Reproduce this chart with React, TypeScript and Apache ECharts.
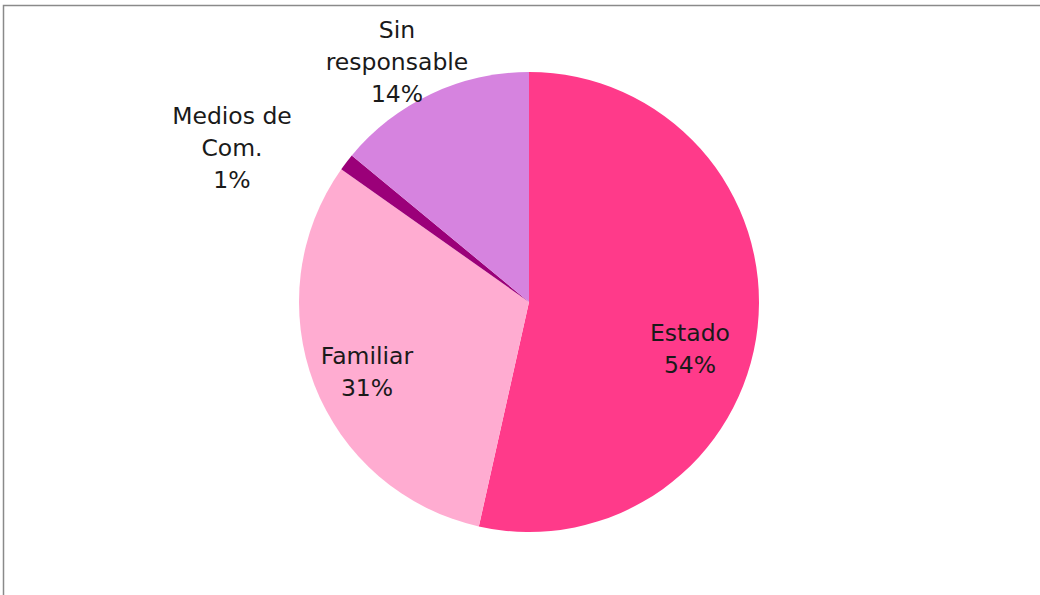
import React, { useEffect, useRef } from "react";
import * as echarts from "echarts";

const categories = ["Estado", "Familiar", "Medios de\nCom.", "Sin\nresponsable"];
const values = [53.5, 31.3, 1.2, 14.0];
const colors = ["#FF3A8A", "#FFACD1", "#9B0079", "#D683DF"];
const labelCenters: [number, number][] = [
  [690, 349],
  [367, 372],
  [232, 148],
  [397, 62],
];

export default function App() {
  const ref = useRef<HTMLDivElement>(null);
  useEffect(() => {
    if (!ref.current) return;
    const chart = echarts.init(ref.current, undefined, { renderer: "svg" });
    chart.setOption({
      animation: false,
      backgroundColor: "#ffffff",
      graphic: [
        {
          type: "rect",
          shape: { x: 3.5, y: 5.5, width: 1060, height: 620 },
          style: { fill: "none", stroke: "#8a8a8a", lineWidth: 1.5 },
          silent: true,
        },
      ],
      series: [
        {
          type: "pie",
          center: [529, 302],
          radius: 230,
          startAngle: 90,
          clockwise: true,
          avoidLabelOverlap: false,
          data: categories.map((name, i) => ({
            name,
            value: values[i],
            itemStyle: { color: colors[i] },
          })),
          itemStyle: { borderWidth: 0 },
          label: {
            show: true,
            position: "inside",
            formatter: (p: any) => `${p.name}\n${Math.round(p.percent)}%`,
            fontFamily: "DejaVu Sans",
            fontSize: 23.5,
            lineHeight: 32,
            color: "#1a1a1a",
            align: "center",
          },
          labelLine: { show: false },
          labelLayout: (params: any) => {
            const c = labelCenters[params.dataIndex];
            return { x: c[0], y: c[1], align: "center", verticalAlign: "middle" };
          },
        },
      ],
    });
    return () => chart.dispose();
  }, []);
  return (
    <div
      ref={ref}
      style={{ position: "fixed", left: 0, top: 0, width: 1040, height: 595 }}
    />
  );
}
